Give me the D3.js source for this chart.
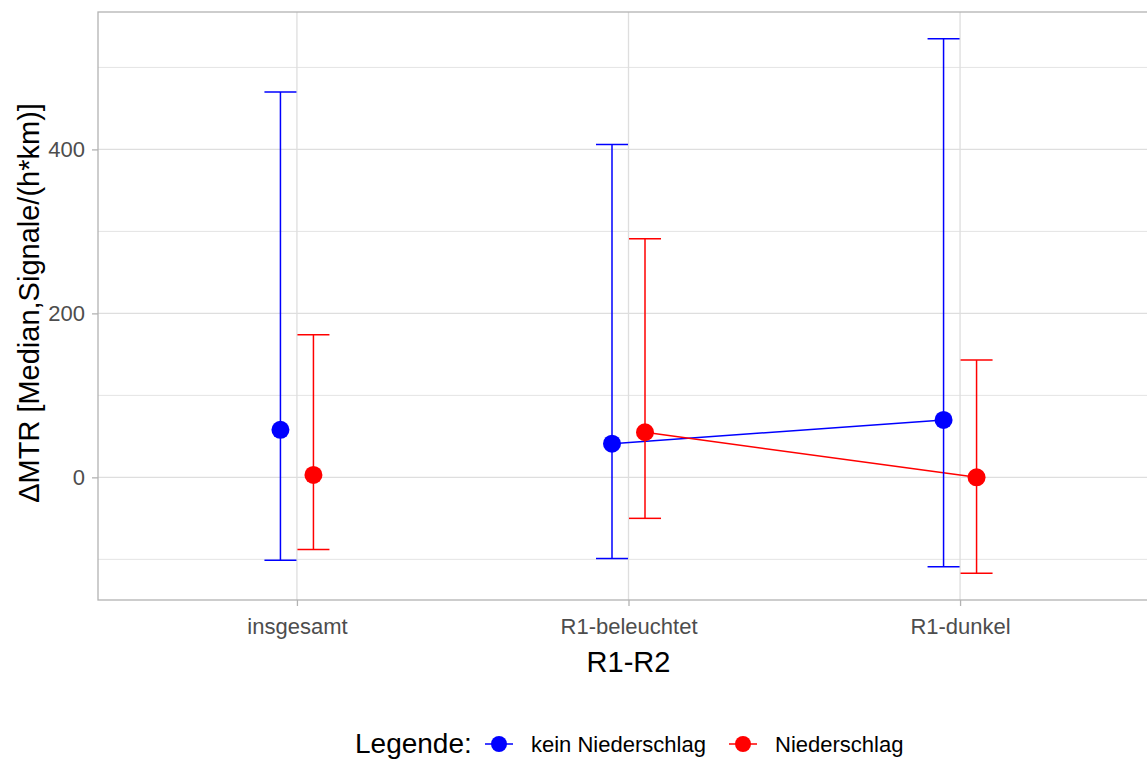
<!DOCTYPE html>
<html>
<head>
<meta charset="utf-8">
<script src="https://cdn.jsdelivr.net/npm/d3@7"></script>
<style>
  body { margin: 0; background: #fff; }
  svg { font-family: "Liberation Sans", Arial, sans-serif; }
</style>
</head>
<body>
<div id="chart"></div>
<script>
var categories = ['insgesamt', 'R1-beleuchtet', 'R1-dunkel'];
var seriesNames = ['kein Niederschlag', 'Niederschlag'];
var seriesColors = ['#0000FF', '#FF0000'];

// medians and error bar limits, per category
var keinMedian = [58, 41, 70];
var keinLow = [-101, -99, -109];
var keinHigh = [470, 406, 535];
var niedMedian = [3, 55, 0];
var niedLow = [-88, -50, -117];
var niedHigh = [174, 291, 143];

var majorTicks = [0, 200, 400];
var minorTicks = [-100, 100, 300, 500];

var width = 1147, height = 760;
var margin = {top: 12, right: -12, bottom: 160, left: 98};

var svg = d3.select('#chart')
    .append('svg')
    .attr('width', width)
    .attr('height', height);

var series = [
    {name: seriesNames[0], color: seriesColors[0], median: keinMedian, low: keinLow, high: keinHigh, shift: -1},
    {name: seriesNames[1], color: seriesColors[1], median: niedMedian, low: niedLow, high: niedHigh, shift: 1}
];

var allVals = keinLow.concat(keinHigh, niedLow, niedHigh);
var ymin = d3.min(allVals), ymax = d3.max(allVals);
var pad = (ymax - ymin) * 0.05;

var x = d3.scalePoint()
    .domain(categories)
    .range([margin.left, width - margin.right])
    .padding(0.6);

var y = d3.scaleLinear()
    .domain([ymin - pad, ymax + pad])
    .range([height - margin.bottom, margin.top]);

var dodge = 16.5, capHalf = 16;

// grid
svg.append('g').selectAll('line')
    .data(minorTicks)
    .enter().append('line')
    .attr('x1', margin.left).attr('x2', width - margin.right)
    .attr('y1', function (d) { return y(d); })
    .attr('y2', function (d) { return y(d); })
    .attr('stroke', '#e4e4e4').attr('stroke-width', 1);

svg.append('g').selectAll('line')
    .data(majorTicks)
    .enter().append('line')
    .attr('x1', margin.left).attr('x2', width - margin.right)
    .attr('y1', function (d) { return y(d); })
    .attr('y2', function (d) { return y(d); })
    .attr('stroke', '#dedede').attr('stroke-width', 1.3);

svg.append('g').selectAll('line')
    .data(categories)
    .enter().append('line')
    .attr('x1', function (d) { return x(d); })
    .attr('x2', function (d) { return x(d); })
    .attr('y1', margin.top).attr('y2', height - margin.bottom)
    .attr('stroke', '#dedede').attr('stroke-width', 1.3);

// panel border
svg.append('rect')
    .attr('x', margin.left).attr('y', margin.top)
    .attr('width', width - margin.right - margin.left)
    .attr('height', height - margin.bottom - margin.top)
    .attr('fill', 'none').attr('stroke', '#b3b3b3').attr('stroke-width', 1.3);

// axes
var yAxis = svg.append('g')
    .attr('transform', 'translate(' + margin.left + ',0)')
    .call(d3.axisLeft(y).tickValues(majorTicks).tickSize(6).tickPadding(7));
var xAxis = svg.append('g')
    .attr('transform', 'translate(0,' + (height - margin.bottom) + ')')
    .call(d3.axisBottom(x).tickSize(6).tickPadding(12));

[yAxis, xAxis].forEach(function (ax) {
    ax.select('.domain').remove();
    ax.selectAll('.tick line').attr('stroke', '#b3b3b3').attr('stroke-width', 1.3);
    ax.selectAll('.tick text')
        .attr('fill', '#4d4d4d')
        .style('font-size', '22px')
        .style('font-family', '"Liberation Sans", Arial, sans-serif');
});

svg.append('text')
    .attr('transform', 'translate(31,' + ((margin.top + height - margin.bottom) / 2 - 3) + ') rotate(-90)')
    .attr('text-anchor', 'middle')
    .attr('dominant-baseline', 'middle')
    .style('font-size', '29px')
    .attr('fill', '#000')
    .text('ΔMTR [Median,Signale/(h*km)]');

svg.append('text')
    .attr('x', x(categories[1]))
    .attr('y', 672)
    .attr('text-anchor', 'middle')
    .style('font-size', '29px')
    .attr('fill', '#000')
    .text('R1-R2');

// lines between the lit/dark categories
var line = d3.line()
    .x(function (d) { return d.x; })
    .y(function (d) { return d.y; });

series.forEach(function (s) {
    var pts = categories.slice(1).map(function (c, i) {
        return {x: x(c) + s.shift * dodge, y: y(s.median[i + 1])};
    });
    svg.append('path')
        .attr('d', line(pts))
        .attr('fill', 'none')
        .attr('stroke', s.color)
        .attr('stroke-width', 1.5);
});

// error bars and points
series.forEach(function (s) {
    var g = svg.append('g');
    categories.forEach(function (c, i) {
        var cx = x(c) + s.shift * dodge;
        g.append('line')
            .attr('x1', cx).attr('x2', cx)
            .attr('y1', y(s.low[i])).attr('y2', y(s.high[i]))
            .attr('stroke', s.color).attr('stroke-width', 1.5);
        [s.low[i], s.high[i]].forEach(function (v) {
            g.append('line')
                .attr('x1', cx - capHalf).attr('x2', cx + capHalf)
                .attr('y1', y(v)).attr('y2', y(v))
                .attr('stroke', s.color).attr('stroke-width', 1.5);
        });
        g.append('circle')
            .attr('cx', cx).attr('cy', y(s.median[i]))
            .attr('r', 9)
            .attr('fill', s.color);
    });
});

// legend
var legend = svg.append('g').attr('transform', 'translate(0,744)');
legend.append('text')
    .attr('x', 355).attr('y', 9)
    .style('font-size', '28px')
    .attr('fill', '#000')
    .text('Legende:');

var keyX = [499, 743];
var labelX = [531, 775];
series.forEach(function (s, i) {
    legend.append('line')
        .attr('x1', keyX[i] - 14).attr('x2', keyX[i] + 14)
        .attr('y1', 0).attr('y2', 0)
        .attr('stroke', s.color).attr('stroke-width', 1.5);
    legend.append('circle')
        .attr('cx', keyX[i]).attr('cy', 0).attr('r', 8)
        .attr('fill', s.color);
    legend.append('text')
        .attr('x', labelX[i]).attr('y', 8)
        .style('font-size', '22px')
        .attr('fill', '#000')
        .text(s.name);
});
</script>
</body>
</html>
